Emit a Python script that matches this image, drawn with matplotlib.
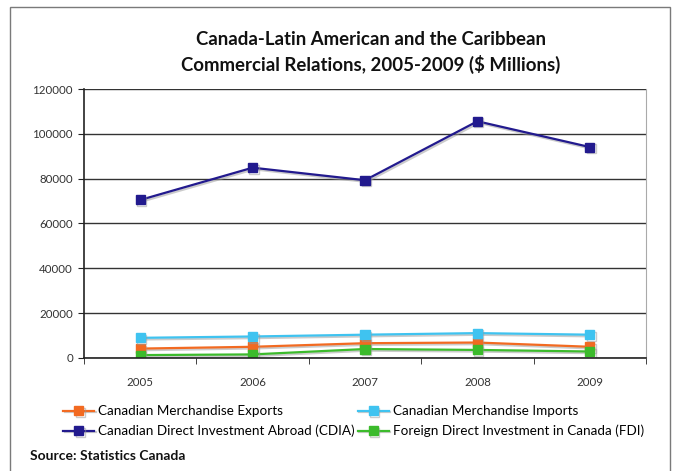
import matplotlib.pyplot as plt
import matplotlib.patheffects as pe
from matplotlib.patches import Rectangle

years = ['2005', '2006', '2007', '2008', '2009']
exports = [4200, 5000, 6600, 6900, 5000]
imports = [9000, 9600, 10400, 11100, 10400]
cdia = [70500, 84900, 79300, 105600, 94100]
fdi = [1300, 1600, 4000, 3600, 2900]

series = [
    ('Canadian Merchandise Exports', exports, '#f26a21'),
    ('Canadian Merchandise Imports', imports, '#3fc3f0'),
    ('Canadian Direct Investment Abroad (CDIA)', cdia, '#221a8e'),
    ('Foreign Direct Investment in Canada (FDI)', fdi, '#3cbb2c'),
]

plt.rcParams['font.family'] = ['Lato', 'DejaVu Sans']

fig = plt.figure(figsize=(6.81, 4.71), dpi=100)
ax = fig.add_axes([84 / 681, 1 - 358 / 471, (646 - 84) / 681, (358 - 89) / 471])

# frame around the whole chart
fig.patches.append(Rectangle((10 / 681, -0.01), 660 / 681, 1 - 7 / 471 + 0.01,
                             transform=fig.transFigure, fill=False,
                             edgecolor='#7a7a7a', linewidth=1.0))

x = range(len(years))
shadow = [pe.SimpleLineShadow(offset=(1.0, -1.2), shadow_color='#999999', alpha=0.5),
          pe.Normal()]
lines = []
for label, values, color in series:
    ln, = ax.plot(x, values, color=color, linewidth=1.6, marker='s', markersize=6.5,
                  label=label, path_effects=shadow)
    lines.append(ln)

ax.set_xlim(-0.5, len(years) - 0.5)
ax.set_ylim(0, 120000)
ax.set_yticks(range(0, 120001, 20000))
ax.set_yticklabels([str(v) for v in range(0, 120001, 20000)])
ax.set_xticks(list(x))
ax.set_xticklabels(years)
ax.set_xticks([i - 0.5 for i in range(len(years) + 1)], minor=True)
ax.tick_params(axis='x', which='major', length=0, pad=14, labelsize=8.3, colors='#333333')
ax.tick_params(axis='x', which='minor', length=4, direction='out', color='#222222')
ax.tick_params(axis='y', length=4, direction='out', labelsize=8.3, colors='#333333', pad=4)
ax.tick_params(axis='y', color='#222222')

ax.grid(axis='y', color='#333333', linewidth=1.0)
ax.set_axisbelow(True)
ax.spines['top'].set_visible(False)
ax.spines['right'].set_color('#aaaaaa')
ax.spines['left'].set_color('#222222')
ax.spines['bottom'].set_color('#222222')
ax.spines['left'].set_linewidth(1.2)
ax.spines['bottom'].set_linewidth(1.2)

fig.text(371 / 681, 1 - 52.5 / 471,
         'Canada-Latin American and the Caribbean\nCommercial Relations, 2005-2009 ($ Millions)',
         ha='center', va='center', fontsize=13.4, fontweight='bold',
         linespacing=1.4, color='#111111')

# row-wise order: exports, imports / CDIA, FDI
order = [0, 2, 1, 3]
ax.legend([lines[i] for i in order], [series[i][0] for i in order],
          loc='upper left', bbox_to_anchor=(58 / 681, 1 - 400 / 471),
          bbox_transform=fig.transFigure, ncol=2, frameon=False, fontsize=9.7,
          handlelength=2.3, handletextpad=0.3, columnspacing=0.2,
          labelspacing=0.55, borderaxespad=0)

fig.text(30 / 681, 1 - 456 / 471, 'Source: Statistics Canada', ha='left', va='center',
         fontsize=10, fontweight='bold', color='#111111')

fig.savefig('out.png', dpi=100)
